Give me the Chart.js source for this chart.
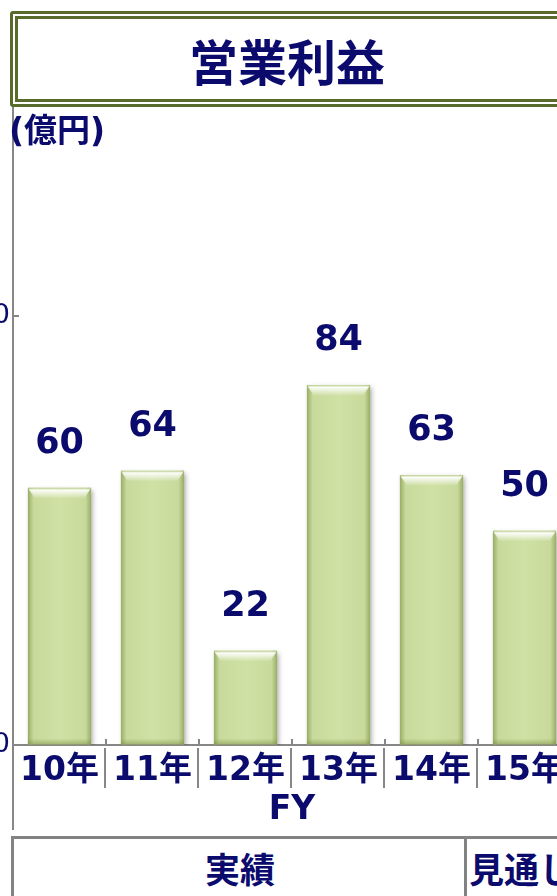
<!DOCTYPE html>
<html><head><meta charset="utf-8">
<script src="https://cdn.jsdelivr.net/npm/chart.js@4/dist/chart.umd.min.js"></script>
<style>
html,body{margin:0;padding:0;background:#fff;}
#wrap{position:relative;width:557px;height:896px;overflow:hidden;background:#fff;}
#c{position:absolute;left:-40px;top:0;}
#title{position:absolute;left:10px;top:11px;width:600px;height:80px;border:8px double #586b2d;border-radius:3px;background:#fff;
 font-family:'Noto Sans CJK JP',sans-serif;font-weight:bold;font-size:49px;color:#0b0b6e;line-height:80px;}
#title span{position:absolute;left:0;width:538px;text-align:center;top:1px;}
#unit{position:absolute;left:9px;top:104px;font-family:'DejaVu Sans','Noto Sans CJK JP',sans-serif;font-weight:bold;font-size:33px;color:#0b0b6e;}
#tbl{position:absolute;left:11px;top:836px;width:600px;height:70px;border-top:3px solid #838383;border-left:3px solid #838383;}
#div{position:absolute;left:464px;top:836px;width:3px;height:70px;background:#838383;}
.cell{position:absolute;font-family:'Noto Sans CJK JP',sans-serif;font-weight:bold;font-size:35px;color:#0b0b6e;white-space:nowrap;}
</style></head>
<body><div id="wrap">
<canvas id="c" width="640" height="830"></canvas>
<div id="title"><span>営業利益</span></div>
<div id="unit">(億円)</div>
<div id="tbl"></div><div id="div"></div>
<div class="cell" style="left:0;width:480px;text-align:center;top:842px;">実績</div>
<div class="cell" style="left:469px;top:842px;">見通し</div>
</div>
<script>
const categories = ['10年','11年','12年','13年','14年','15年'];
const profit = [60, 64, 22, 84, 63, 50];
const yTicks = [0, 100];
const yMax = 150;

const NAVY = '#0b0b6e';
const GRAY = '#878787';
const FAM = "'DejaVu Sans','Noto Sans CJK JP',sans-serif";

const decor = {
  id: 'decor',
  beforeDatasetsDraw(chart) {
    const ctx = chart.ctx;
    ctx.save();
    ctx.shadowColor = 'rgba(0,0,0,0.35)';
    ctx.shadowBlur = 5;
    ctx.shadowOffsetX = 2;
    ctx.shadowOffsetY = 2;
  },
  afterDatasetsDraw(chart) {
    const ctx = chart.ctx;
    ctx.restore();
    const meta = chart.getDatasetMeta(0);
    meta.data.forEach((bar, i) => {
      const w = bar.width, l = bar.x - w / 2, r = bar.x + w / 2, t = bar.y, b = bar.base;
      const g = ctx.createLinearGradient(l, 0, r, 0);
      g.addColorStop(0, 'rgba(110,130,50,0.55)');
      g.addColorStop(0.09, 'rgba(110,130,50,0.08)');
      g.addColorStop(0.5, 'rgba(110,130,50,0)');
      g.addColorStop(0.91, 'rgba(110,130,50,0.08)');
      g.addColorStop(1, 'rgba(110,130,50,0.55)');
      ctx.fillStyle = g;
      ctx.fillRect(l, t, w, b - t);
      const h = ctx.createLinearGradient(0, t, 0, t + 11);
      h.addColorStop(0, 'rgba(180,200,130,0.6)');
      h.addColorStop(0.2, 'rgba(255,255,255,0.95)');
      h.addColorStop(1, 'rgba(255,255,255,0)');
      ctx.fillStyle = h;
      ctx.beginPath();
      ctx.moveTo(l, t); ctx.lineTo(r, t); ctx.lineTo(r - 7, t + 11); ctx.lineTo(l + 7, t + 11); ctx.closePath();
      ctx.fill();
      const bg = ctx.createLinearGradient(0, b - 6, 0, b);
      bg.addColorStop(0, 'rgba(110,130,50,0)');
      bg.addColorStop(1, 'rgba(110,130,50,0.45)');
      ctx.fillStyle = bg;
      ctx.fillRect(l, b - 6, w, 6);
      ctx.fillStyle = NAVY;
      ctx.font = 'bold 35px ' + FAM;
      ctx.textAlign = 'center';
      ctx.textBaseline = 'alphabetic';
      ctx.fillText(String(profit[i]), bar.x, t - 35);
    });
  },
  afterDraw(chart) {
    const ctx = chart.ctx;
    const xs = chart.scales.x, ys = chart.scales.y;
    const ax = ys.right, ay = xs.top;
    ctx.save();
    ctx.strokeStyle = GRAY;
    ctx.lineWidth = 2;
    yTicks.forEach(v => {
      const py = Math.round(ys.getPixelForValue(v));
      ctx.beginPath(); ctx.moveTo(ax, py); ctx.lineTo(ax + 6, py); ctx.stroke();
    });
    ctx.beginPath(); ctx.moveTo(ax, ay); ctx.lineTo(ax, ay + 85); ctx.stroke();
    const step = xs.width / categories.length;
    for (let k = 1; k < categories.length; k++) {
      const px = Math.round(xs.left + step * k);
      ctx.beginPath(); ctx.moveTo(px, ay - 6); ctx.lineTo(px, ay); ctx.stroke();
      ctx.beginPath(); ctx.moveTo(px - 1, ay + 3); ctx.lineTo(px - 1, ay + 43); ctx.stroke();
    }
    ctx.restore();
  }
};

new Chart(document.getElementById('c'), {
  type: 'bar',
  data: {
    labels: categories,
    datasets: [{
      data: profit,
      backgroundColor: '#cfe1a4',
      borderWidth: 0,
      barPercentage: 0.68,
      categoryPercentage: 1
    }]
  },
  options: {
    responsive: false,
    animation: false,
    layout: { padding: { top: 102, right: 29, left: 0, bottom: 0 } },
    plugins: { legend: { display: false }, tooltip: { enabled: false } },
    scales: {
      x: {
        grid: { drawOnChartArea: false, drawTicks: false },
        border: { display: true, color: GRAY, width: 2 },
        ticks: { color: NAVY, font: { family: FAM, size: 33, weight: 'bold' }, padding: 7, maxRotation: 0, autoSkip: false },
        title: { display: true, text: 'FY', color: NAVY, font: { family: FAM, size: 33, weight: 'bold' }, padding: { top: 0, bottom: 0 } },
        afterFit(s) { s.height = 85; }
      },
      y: {
        min: 0, max: yMax,
        afterBuildTicks(s) { s.ticks = yTicks.map(v => ({ value: v })); },
        grid: { drawOnChartArea: false, drawTicks: false },
        border: { display: true, color: GRAY, width: 2 },
        ticks: { color: NAVY, font: { family: FAM, size: 27 }, padding: 3 },
        afterFit(s) { s.width = 53; }
      }
    }
  },
  plugins: [decor]
});
</script>
</body></html>
